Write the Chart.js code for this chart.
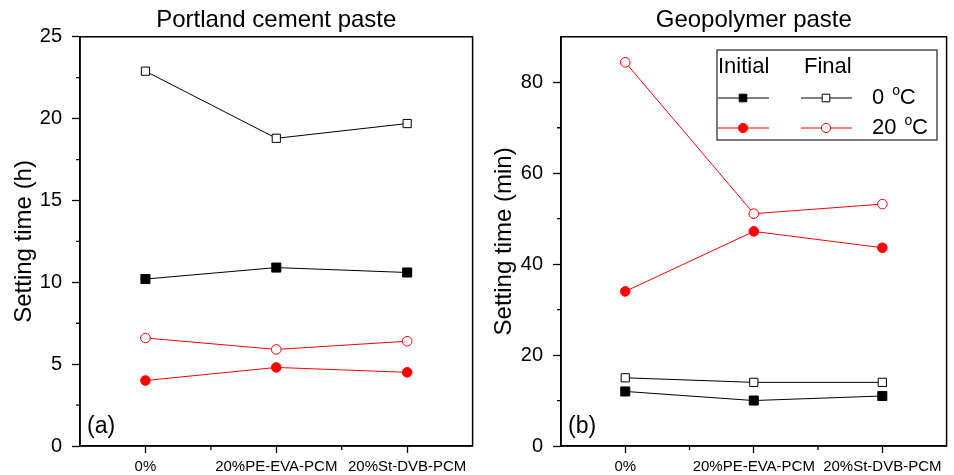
<!DOCTYPE html>
<html>
<head>
<meta charset="utf-8">
<script src="https://cdn.jsdelivr.net/npm/chart.js"></script>
<style>
  body { margin: 0; background: #fff; }
  canvas { position: absolute; top: 0; }
  #left { left: 0; }
  #right { left: 480px; }
</style>
</head>
<body>
<canvas id="left" width="480" height="475"></canvas>
<canvas id="right" width="474" height="475"></canvas>
<script>
const categories = ['0%', '20%PE-EVA-PCM', '20%St-DVB-PCM'];

// Portland cement paste (h)
const portlandInitial0 = [10.2, 10.9, 10.6];
const portlandFinal0 = [22.9, 18.8, 19.7];
const portlandInitial20 = [4.0, 4.8, 4.5];
const portlandFinal20 = [6.6, 5.9, 6.4];

// Geopolymer paste (min)
const geoInitial0 = [12, 10, 11];
const geoFinal0 = [15, 14, 14];
const geoInitial20 = [34, 47.2, 43.6];
const geoFinal20 = [84.4, 51.1, 53.2];

// tick labels
const portlandTicks = [0, 5, 10, 15, 20, 25];
const portlandMinor = [2.5, 7.5, 12.5, 17.5, 22.5];
const geoTicks = [0, 20, 40, 60, 80];
const geoMinor = [10, 30, 50, 70];
const xMinor = [0.5, 1.5];

const RED = '#ff0000';
const FONT = '"Liberation Sans", Arial, sans-serif';
Chart.defaults.font.family = FONT;
Chart.defaults.color = '#000';

function series(values, color, style, filled, radius) {
	return {
		data: values.map( ( v, i ) => ( { x: i, y: v } ) ),
		borderColor: color,
		borderWidth: 1,
		pointStyle: style,
		pointRadius: radius,
		pointBorderWidth: 1,
		pointBorderColor: color,
		pointBackgroundColor: filled ? color : '#fff',
		fill: false
	};
}

// box round the plot, minor ticks and the (a)/(b) tag
function panelExtras(yMinor, tag) {
	return {
		id: 'extras',
		afterDraw( chart ) {
			const ctx = chart.ctx, a = chart.chartArea;
			const xs = chart.scales.x, ys = chart.scales.y;
			ctx.save();
			ctx.strokeStyle = '#000';
			ctx.lineWidth = 1.5;
			ctx.strokeRect( a.left, a.top, a.right - a.left, a.bottom - a.top );

			ctx.lineWidth = 1.3;
			ctx.beginPath();
			yMinor.forEach( v => {
				const y = ys.getPixelForValue( v );
				ctx.moveTo( a.left - 4, y );
				ctx.lineTo( a.left, y );
			} );
			xMinor.forEach( v => {
				const x = xs.getPixelForValue( v );
				ctx.moveTo( x, a.bottom );
				ctx.lineTo( x, a.bottom + 4 );
			} );
			ctx.stroke();

			ctx.fillStyle = '#000';
			ctx.font = '23px ' + FONT;
			ctx.textBaseline = 'middle';
			ctx.textAlign = 'left';
			ctx.fillText( tag, a.left + 7, a.bottom - 19 );
			ctx.restore();
		}
	};
}

const legendPlugin = {
	id: 'settingLegend',
	afterDraw( chart ) {
		const ctx = chart.ctx;
		ctx.save();
		ctx.strokeStyle = '#333';
		ctx.lineWidth = 1.3;
		ctx.strokeRect( 237, 50, 220, 90 );

		ctx.fillStyle = '#000';
		ctx.font = '22px ' + FONT;
		ctx.textBaseline = 'middle';
		ctx.textAlign = 'left';
		ctx.fillText( 'Initial', 238, 67 );
		ctx.fillText( 'Final', 324, 67 );

		const rows = [
			{ y: 98, color: '#000', style: 'rect', label: '0' },
			{ y: 128, color: RED, style: 'circle', label: '20' }
		];
		rows.forEach( r => {
			[ [ 238, 289, 263, true ], [ 321, 372, 346, false ] ].forEach( s => {
				ctx.strokeStyle = r.color;
				ctx.lineWidth = 1;
				ctx.beginPath();
				ctx.moveTo( s[0], r.y );
				ctx.lineTo( s[1], r.y );
				ctx.stroke();
				ctx.fillStyle = s[3] ? r.color : '#fff';
				ctx.beginPath();
				if ( r.style === 'rect' ) {
					ctx.rect( s[2] - 3.8, r.y - 3.8, 7.6, 7.6 );
				} else {
					ctx.arc( s[2], r.y, 4.6, 0, Math.PI * 2 );
				}
				ctx.fill();
				ctx.stroke();
			} );
			ctx.fillStyle = '#000';
			ctx.font = '22px ' + FONT;
			const x0 = 392;
			ctx.fillText( r.label, x0, r.y );
			const w = ctx.measureText( r.label ).width;
			ctx.font = '14px ' + FONT;
			ctx.fillText( 'o', x0 + w + 8, r.y - 7 );
			ctx.font = '22px ' + FONT;
			ctx.fillText( 'C', x0 + w + 15.5, r.y );
		} );
		ctx.restore();
	}
};

function makeChart(id, o) {
	return new Chart( document.getElementById( id ), {
		type: 'line',
		data: { datasets: o.datasets },
		options: {
			responsive: false,
			animation: false,
			layout: { padding: { right: o.padRight } },
			plugins: {
				legend: { display: false },
				tooltip: { enabled: false },
				title: {
					display: true,
					text: o.title,
					fullSize: false,
					color: '#000',
					font: { size: 24, weight: 'normal' },
					padding: { top: 6, bottom: 2 }
				}
			},
			scales: {
				x: {
					type: 'linear',
					min: -0.5,
					max: 2.5,
					afterBuildTicks: s => { s.ticks = categories.map( ( c, i ) => ( { value: i } ) ); },
					afterFit: s => { s.height = 29; },
					ticks: {
						callback: v => categories[v],
						color: '#000',
						font: { size: 15 },
						padding: 5,
						maxRotation: 0,
						autoSkip: false
					},
					grid: { drawOnChartArea: false, tickLength: 7, tickColor: '#000', tickWidth: 1.3 },
					border: { color: '#000', width: 1.5 }
				},
				y: {
					min: 0,
					max: o.yMax,
					afterBuildTicks: s => { s.ticks = o.yTicks.map( v => ( { value: v } ) ); },
					afterFit: s => { s.width = o.yWidth; },
					ticks: { color: '#000', font: { size: 20 }, padding: 10 },
					grid: { drawOnChartArea: false, tickLength: 8, tickColor: '#000', tickWidth: 1.3 },
					border: { color: '#000', width: 1.5 },
					title: {
						display: true,
						text: o.yTitle,
						color: '#000',
						font: { size: 24 },
						padding: { top: 10, bottom: 0 }
					}
				}
			}
		},
		plugins: o.plugins
	} );
}

makeChart( 'left', {
	title: 'Portland cement paste',
	yTitle: 'Setting time (h)',
	yMax: 25,
	yTicks: portlandTicks,
	yWidth: 80,
	padRight: 6,
	datasets: [
		series( portlandFinal0, '#000', 'rect', false, 5.8 ),
		series( portlandInitial0, '#000', 'rect', true, 6.4 ),
		series( portlandFinal20, RED, 'circle', false, 4.8 ),
		series( portlandInitial20, RED, 'circle', true, 4.8 )
	],
	plugins: [ panelExtras( portlandMinor, '(a)' ) ]
} );

makeChart( 'right', {
	title: 'Geopolymer paste',
	yTitle: 'Setting time (min)',
	yMax: 90,
	yTicks: geoTicks,
	yWidth: 81,
	padRight: 1,
	datasets: [
		series( geoFinal20, RED, 'circle', false, 4.8 ),
		series( geoInitial20, RED, 'circle', true, 4.8 ),
		series( geoFinal0, '#000', 'rect', false, 5.8 ),
		series( geoInitial0, '#000', 'rect', true, 6.4 )
	],
	plugins: [ panelExtras( geoMinor, '(b)' ), legendPlugin ]
} );
</script>
</body>
</html>
